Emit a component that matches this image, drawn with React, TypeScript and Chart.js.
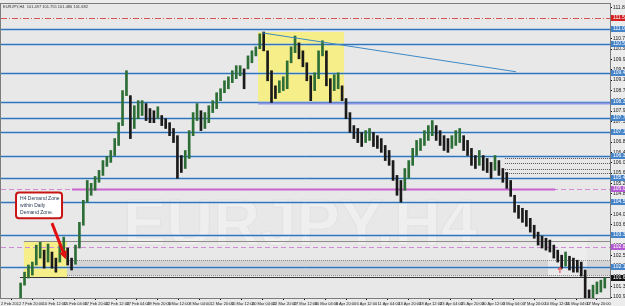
import React, { useEffect, useRef } from 'react';
import { Chart, registerables } from 'chart.js';
Chart.register(...registerables);

// ---- DATA ----
const timeLabels = ['2 Feb 2012','7 Feb 20:00','10 Feb 12:00','15 Feb 04:00','17 Feb 20:00','22 Feb 12:00','27 Feb 04:00','29 Feb 20:00','5 Mar 12:00','8 Mar 04:00','12 Mar 20:00','15 Mar 12:00','20 Mar 04:00','22 Mar 20:00','27 Mar 12:00','30 Mar 04:00','3 Apr 20:00','6 Apr 12:00','11 Apr 04:00','13 Apr 20:00','18 Apr 12:00','23 Apr 04:00','25 Apr 20:00','30 Apr 12:00','3 May 04:00','7 May 20:00','10 May 12:00','15 May 04:00','17 May 20:00'];
const BARS_PER_LABEL = 16;
const TOTAL_BARS = 466;
const FIRST_BAR = 15;
const BAR_STEP = 3;

const highs = [101.50,101.91,102.18,102.29,102.93,103.04,102.74,102.97,102.67,102.44,102.93,103.23,102.82,102.44,102.93,103.79,104.62,105.37,105.26,105.52,105.75,106.12,106.27,106.50,106.95,107.55,108.76,109.51,108.57,108.19,108.38,108.38,108.27,108.08,108.00,108.15,107.82,107.70,107.55,107.33,107.06,106.31,106.50,107.25,107.93,108.27,108.00,107.93,108.19,108.38,108.68,108.83,109.13,109.28,109.51,109.70,109.70,109.58,110.07,110.26,110.41,110.90,110.97,110.26,109.51,108.94,109.13,109.28,109.88,110.41,110.82,110.56,110.26,109.81,109.32,109.43,110.26,110.64,110.26,109.21,109.36,109.43,108.94,108.46,107.93,107.44,107.33,107.18,107.25,107.33,107.18,107.06,106.95,106.69,106.50,106.12,105.56,105.37,105.82,106.12,106.58,106.88,106.95,107.25,107.44,107.63,107.44,107.25,107.06,106.95,107.06,107.25,107.33,107.06,106.88,106.58,106.31,106.50,106.31,106.20,106.05,106.31,106.12,105.82,105.67,105.37,104.81,104.43,104.32,104.24,103.94,103.68,103.42,103.27,103.19,103.12,102.93,102.74,102.55,102.67,102.51,102.44,102.36,102.29,101.99,101.24,101.42,101.54,101.61,101.69];
const lows = [100.86,101.42,101.69,101.80,102.18,102.44,102.06,102.29,102.06,101.91,102.29,102.55,102.18,101.99,102.21,102.82,103.68,104.55,104.81,105.00,105.30,105.56,105.90,106.05,106.31,106.69,107.44,108.57,106.95,107.33,107.70,107.82,107.63,107.55,107.55,107.70,107.44,107.33,107.06,106.80,105.45,105.67,105.82,106.20,107.06,107.63,107.25,107.33,107.55,107.93,108.08,108.38,108.68,108.83,109.06,109.21,109.32,108.83,109.58,109.81,110.07,110.34,110.26,109.13,108.31,108.46,108.68,108.76,108.83,109.81,110.19,109.96,109.66,109.13,108.38,108.76,109.21,110.07,108.94,108.31,108.76,108.83,108.38,107.70,107.18,106.95,106.80,106.65,106.80,106.88,106.65,106.58,106.43,106.12,105.94,105.37,104.81,104.55,105.00,105.45,105.94,106.31,106.50,106.69,106.88,107.06,106.88,106.69,106.50,106.43,106.58,106.69,106.80,106.50,106.31,105.94,105.82,105.94,105.75,105.67,105.45,105.75,105.56,105.30,105.07,104.77,104.17,103.94,103.79,103.64,103.42,103.19,102.93,102.82,102.74,102.67,102.44,102.29,102.06,102.14,101.99,101.91,101.91,101.76,100.86,100.67,100.94,101.09,101.16,101.31];

const yTicks = [100.969,101.359,101.749,102.139,102.529,102.919,103.309,103.699,104.089,104.479,104.869,105.259,105.649,106.039,106.429,106.819,107.209,107.599,107.989,108.379,108.769,109.159,109.549,109.939,110.329,110.719,111.109,111.499,111.889];
const Y_MIN = 100.935;
const Y_MAX = 112.027;

const blueLevels = [111.09,110.52,109.43,108.34,107.74,107.18,106.31,105.45,104.55,103.30,102.10];
const redLevel = 111.50;
const magentaLevel = 105.03;
const pinkLevel = 102.85;
const dottedLevels = [106.20,106.01,105.82,105.64];
const lavenderLevel = 108.30;
const zoneTop = 102.36;
const zoneBottom = 101.80;
const zoneBaseLine = 101.72;
const zoneTopLine = 103.08;
const lastPrice = 101.682;
const headerText = 'EURJPY,H4  101.497 101.755 101.486 101.682';
const watermark = 'EURJPY.H4';
const noteLines = ['H4 Demand Zone', 'within Daily', 'Demand Zone.'];

// zones / drawings in data units (bar index, price)
const yellowBox1 = { x0: 17.5, x1: 50.5, p0: 101.72, p1: 103.08 };
const yellowBox2 = { x0: 196.7, x1: 262.5, p0: 108.34, p1: 110.97 };
const lightBox = { x0: 418.6, x1: 448.4, p0: 101.80, p1: 103.19 };
const trend = { x0: 199.7, p0: 110.94, x1: 394.1, p1: 109.47 };
const noteBox = { x0: 11.5, x1: 46.7, p0: 103.94, p1: 104.92 };
const noteArrow = { x0: 39.0, p0: 103.76, x1: 49.7, p1: 102.40 };
const redMarker = { x: 427.7, p: 101.99 };
const watermarkPos = { x: 228.8, p: 102.93 };

const overlay = {
  id: 'mt4overlay',
  beforeDraw(chart: any) {
    const { ctx, chartArea: a } = chart;
    ctx.save();
    ctx.fillStyle = '#ececec';
    ctx.fillRect(0, 0, chart.width, chart.height);
    ctx.fillStyle = '#e8e8e8';
    ctx.fillRect(a.left, a.top, a.right - a.left, a.bottom - a.top);
    ctx.restore();
  },
  beforeDatasetsDraw(chart: any) {
    const { ctx, chartArea: a, scales } = chart;
    const px = (v: number) => scales.x.getPixelForValue(v);
    const py = (v: number) => scales.y.getPixelForValue(v);
    const hy = (v: number) => Math.round(py(v)) + 0.5;
    ctx.save();
    ctx.beginPath();
    ctx.rect(a.left, a.top, a.right - a.left, a.bottom - a.top);
    ctx.clip();
    const rect = (b: any, fill: string) => {
      const x0 = px(b.x0), x1 = px(b.x1), y0 = py(b.p1), y1 = py(b.p0);
      ctx.fillStyle = fill;
      ctx.fillRect(x0, y0, x1 - x0, y1 - y0);
    };
    ctx.fillStyle = '#d4d4d4';
    ctx.fillRect(px(50.5), py(zoneTop), a.right - px(50.5), py(zoneBottom) - py(zoneTop));
    rect(lightBox, 'rgba(238,238,238,0.8)');
    rect(yellowBox1, 'rgba(248,238,120,0.85)');
    rect(yellowBox2, 'rgba(248,238,120,0.85)');

    ctx.font = 'bold 65px "Liberation Sans", Arial, sans-serif';
    ctx.textAlign = 'center';
    ctx.textBaseline = 'alphabetic';
    ctx.fillStyle = '#efefef';
    ctx.fillText(watermark, px(watermarkPos.x), py(watermarkPos.p));
    ctx.strokeStyle = 'rgba(215,215,215,0.45)';
    ctx.lineWidth = 1;
    ctx.strokeText(watermark, px(watermarkPos.x), py(watermarkPos.p));

    const line = (p: number, x0: number, x1: number, color: string, w: number, dash: number[] = []) => {
      ctx.beginPath();
      ctx.setLineDash(dash);
      ctx.strokeStyle = color;
      ctx.lineWidth = w;
      const y = hy(p);
      ctx.moveTo(x0, y);
      ctx.lineTo(x1, y);
      ctx.stroke();
      ctx.setLineDash([]);
    };
    line(zoneTop, px(50.5), a.right, '#8a8a8a', 1, [1, 1]);
    line(zoneBottom, px(50.5), a.right, '#8a8a8a', 1, [1, 1]);
    line(zoneBaseLine, px(14.5), a.right, '#333333', 1);
    line(zoneTopLine, px(17.5), a.right, '#8c8c8c', 1);
    line(redLevel, a.left, a.right, '#d85050', 1, [6, 2, 1, 2]);
    blueLevels.forEach((p) => {
      line(p, a.left, a.right, 'rgba(130,178,225,0.5)', 3);
      line(p, a.left, a.right, '#3474b5', 1);
    });
    line(lavenderLevel, px(196.7), a.right, '#8c95e6', 2);
    line(magentaLevel, a.left, a.right, '#d38ad6', 1, [5, 3]);
    line(magentaLevel, px(54.3), px(424), '#c862d0', 2);
    line(pinkLevel, a.left, a.right, '#d38ad6', 1, [5, 3]);
    dottedLevels.forEach((p) => line(p, px(385.6), a.right, '#555555', 1, [1, 1]));
    ctx.restore();
  },
  afterDatasetsDraw(chart: any) {
    const { ctx, chartArea: a, scales } = chart;
    const px = (v: number) => scales.x.getPixelForValue(v);
    const py = (v: number) => scales.y.getPixelForValue(v);
    ctx.save();
    ctx.beginPath();
    ctx.rect(a.left, a.top, a.right - a.left, a.bottom - a.top);
    ctx.clip();
    ctx.strokeStyle = '#3f88c5';
    ctx.lineWidth = 1;
    ctx.beginPath();
    ctx.moveTo(px(trend.x0), py(trend.p0));
    ctx.lineTo(px(trend.x1), py(trend.p1));
    ctx.stroke();

    const bx0 = px(noteBox.x0), bx1 = px(noteBox.x1), by0 = py(noteBox.p1), by1 = py(noteBox.p0);
    ctx.beginPath();
    (ctx as any).roundRect(bx0, by0, bx1 - bx0, by1 - by0, 3);
    ctx.fillStyle = '#ffffff';
    ctx.fill();
    ctx.strokeStyle = '#c81414';
    ctx.lineWidth = 2;
    ctx.stroke();
    ctx.fillStyle = '#2b3a55';
    ctx.font = '5px "Liberation Sans", Arial, sans-serif';
    ctx.textAlign = 'left';
    ctx.textBaseline = 'middle';
    noteLines.forEach((t, i) => ctx.fillText(t, bx0 + 4, by0 + 6 + i * 7));

    const ax0 = px(noteArrow.x0), ay0 = py(noteArrow.p0), ax1 = px(noteArrow.x1), ay1 = py(noteArrow.p1);
    const ang = Math.atan2(ay1 - ay0, ax1 - ax0);
    ctx.strokeStyle = '#e01010';
    ctx.lineWidth = 3;
    ctx.beginPath();
    ctx.moveTo(ax0, ay0);
    ctx.lineTo(ax1 - 5 * Math.cos(ang), ay1 - 5 * Math.sin(ang));
    ctx.stroke();
    ctx.fillStyle = '#e01010';
    ctx.beginPath();
    ctx.moveTo(ax1, ay1);
    ctx.lineTo(ax1 - 8 * Math.cos(ang) + 4 * Math.sin(ang), ay1 - 8 * Math.sin(ang) - 4 * Math.cos(ang));
    ctx.lineTo(ax1 - 8 * Math.cos(ang) - 4 * Math.sin(ang), ay1 - 8 * Math.sin(ang) + 4 * Math.cos(ang));
    ctx.closePath();
    ctx.fill();

    const mx = px(redMarker.x), my = py(redMarker.p);
    ctx.strokeStyle = '#e04040';
    ctx.lineWidth = 1;
    ctx.beginPath();
    ctx.moveTo(mx, my - 3); ctx.lineTo(mx - 2, my); ctx.moveTo(mx, my - 3); ctx.lineTo(mx + 2, my);
    ctx.moveTo(mx, my - 3); ctx.lineTo(mx, my + 3);
    ctx.stroke();

    ctx.fillStyle = '#333';
    ctx.font = '4px "Liberation Sans", Arial, sans-serif';
    ctx.textAlign = 'left';
    ctx.textBaseline = 'top';
    ctx.fillText(headerText, a.left + 2, a.top + 1);
    ctx.restore();

    ctx.save();
    ctx.strokeStyle = '#7c7c7c';
    ctx.lineWidth = 1;
    ctx.strokeRect(a.left - 0.5, a.top - 0.5, a.right - a.left + 1, a.bottom - a.top + 1);
    ctx.restore();
  },
  afterDraw(chart: any) {
    const { ctx, chartArea: a, scales } = chart;
    const py = (v: number) => scales.y.getPixelForValue(v);
    const tag = (p: number, bg: string, fg: string) => {
      const y = Math.round(py(p));
      ctx.fillStyle = bg;
      ctx.fillRect(a.right + 1, y - 3, 15, 6);
      ctx.fillStyle = fg;
      ctx.font = '5px "Liberation Sans", Arial, sans-serif';
      ctx.textAlign = 'left';
      ctx.textBaseline = 'middle';
      ctx.fillText(p.toFixed(3), a.right + 3, y);
    };
    ctx.save();
    tag(redLevel, '#d42020', '#ffffff');
    blueLevels.forEach((p) => tag(p, '#4584c8', '#ffffff'));
    tag(magentaLevel, '#b45ad0', '#ffffff');
    tag(pinkLevel, '#b45ad0', '#ffffff');
    tag(lastPrice, '#111111', '#ffffff');
    ctx.restore();
  },
};

export default function App() {
  const ref = useRef<HTMLCanvasElement>(null);
  useEffect(() => {
    const canvas = ref.current;
    if (!canvas) return;
    const points = highs.map((h, k) => ({ x: FIRST_BAR + k * BAR_STEP, y: [lows[k], h] }));
    const colors = highs.map((h, k) => {
      if (k === 0) return '#2d6e36';
      const mid = (h + lows[k]) / 2;
      const prev = (highs[k - 1] + lows[k - 1]) / 2;
      return mid >= prev ? '#2d6e36' : '#1a1a1a';
    });
    const chart = new Chart(canvas, {
      type: 'bar',
      data: {
        datasets: [
          {
            data: points as any,
            backgroundColor: colors,
            borderWidth: 0,
            barThickness: 2,
            grouped: false,
          } as any,
        ],
      },
      options: {
        responsive: false,
        animation: false,
        layout: { padding: { top: 3, left: 1, right: 0, bottom: 0 } },
        plugins: { legend: { display: false }, tooltip: { enabled: false } },
        scales: {
          x: {
            type: 'linear',
            min: 0,
            max: TOTAL_BARS,
            offset: false,
            afterFit: (s: any) => { s.height = 8; },
            afterBuildTicks: (s: any) => { s.ticks = timeLabels.map((_, i) => ({ value: i * BARS_PER_LABEL })); },
            ticks: {
              autoSkip: false, maxRotation: 0, minRotation: 0, align: 'start', padding: 1,
              font: { size: 4, family: '"Liberation Sans", Arial, sans-serif' }, color: '#222',
              callback: (_v: any, i: number) => timeLabels[i] ?? '',
            },
            grid: { display: true, drawOnChartArea: false, drawTicks: true, tickLength: 2, color: '#000' },
            border: { display: true, color: '#000' },
          } as any,
          y: {
            type: 'linear',
            position: 'right',
            min: Y_MIN,
            max: Y_MAX,
            afterFit: (s: any) => { s.width = 15; },
            afterBuildTicks: (s: any) => { s.ticks = yTicks.map((v) => ({ value: v })); },
            ticks: {
              autoSkip: false, padding: 1,
              font: { size: 5, family: '"Liberation Sans", Arial, sans-serif' }, color: '#222',
              callback: (v: any) => Number(v).toFixed(3),
            },
            grid: { display: true, drawOnChartArea: false, drawTicks: true, tickLength: 2, color: '#000' },
            border: { display: true, color: '#000' },
          } as any,
        },
      },
      plugins: [overlay as any],
    });
    return () => chart.destroy();
  }, []);
  return (
    <div style={{ position: 'fixed', left: 0, top: 0, width: 625, height: 306 }}>
      <canvas ref={ref} width={625} height={306} style={{ display: 'block' }} />
    </div>
  );
}
